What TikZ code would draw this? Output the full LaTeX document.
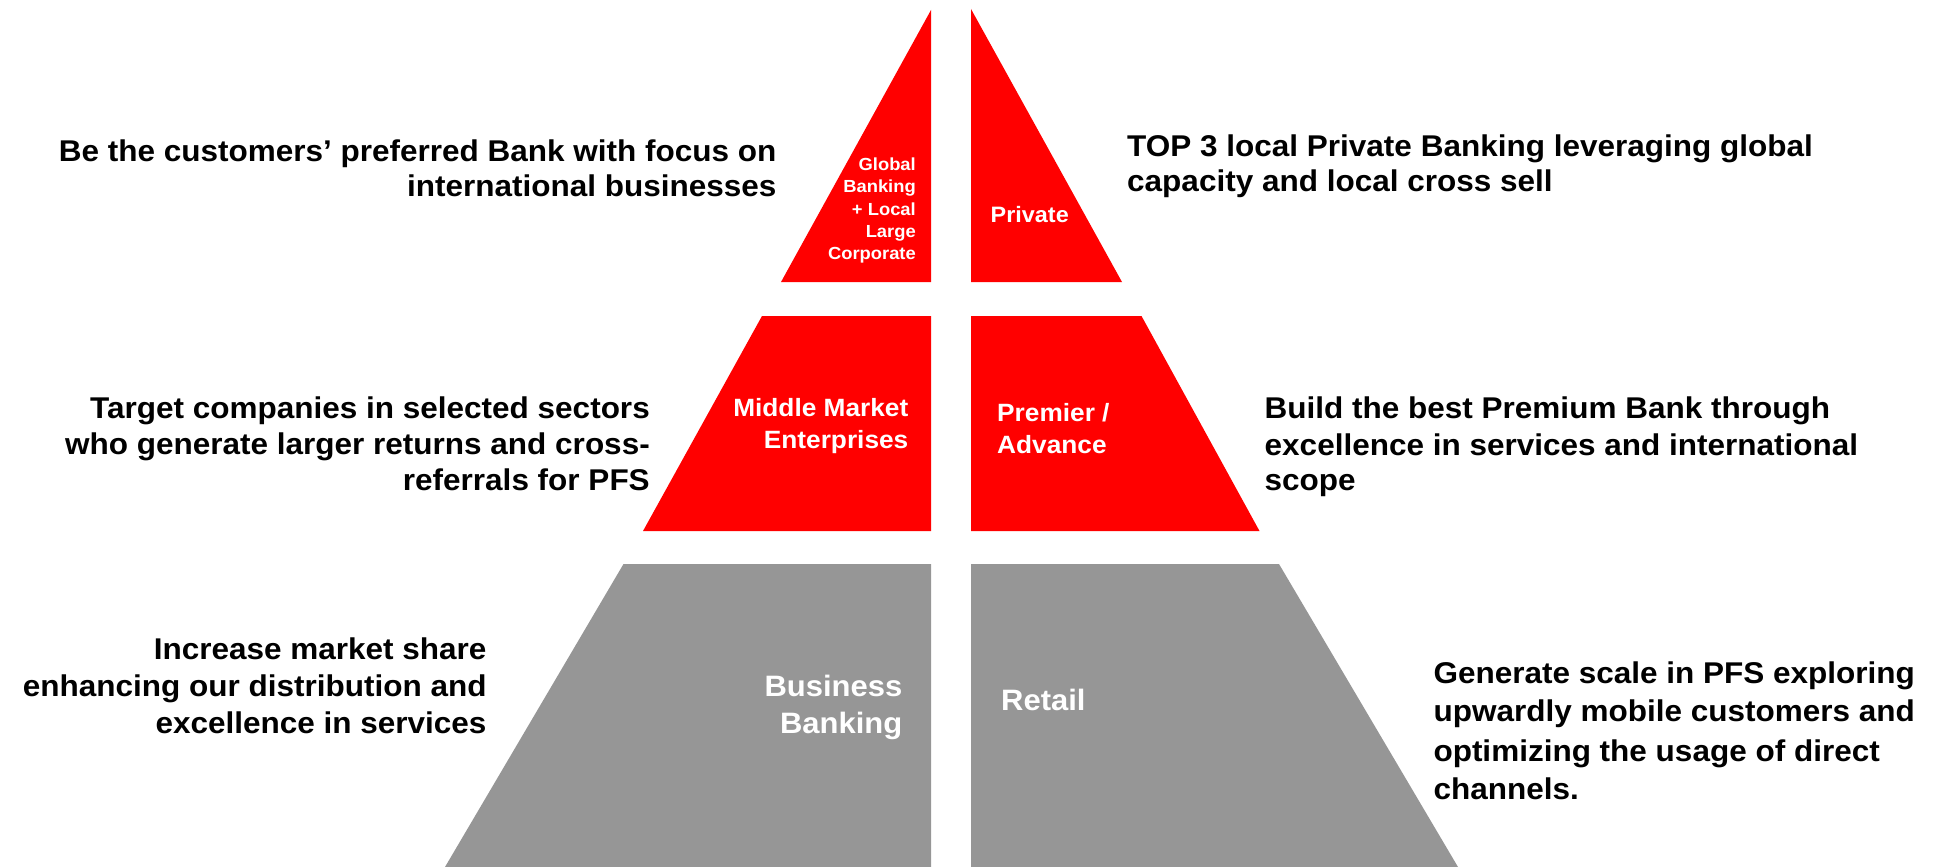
\documentclass[tikz,border=0pt]{standalone}
\usepackage{fontspec}
\newfontfamily\pyrfont{Liberation Sans Bold}[FakeStretch=1.05]
\definecolor{segred}{RGB}{255,0,0}
\definecolor{seggray}{RGB}{150,150,150}
\begin{document}
\begin{tikzpicture}[x=1pt,y=-1pt,
  lineR/.style={anchor=base east,inner sep=0pt,font=\pyrfont\fontsize{30}{36}\selectfont},
  lineL/.style={anchor=base west,inner sep=0pt,font=\pyrfont\fontsize{30}{36}\selectfont},
  inlab/.style={inner sep=0pt,text=white}]
\useasboundingbox (0,0) rectangle (1939,867);

% pyramid segments
\fill[segred] (931,10) -- (931,282) -- (781,282) -- cycle;
\fill[segred] (971,9) -- (1122,282) -- (971,282) -- cycle;
\fill[segred] (762,316) -- (931,316) -- (931,531) -- (643,531) -- cycle;
\fill[segred] (971,316) -- (1141.5,316) -- (1259.5,531) -- (971,531) -- cycle;
\fill[seggray] (623.5,564) -- (931,564) -- (931,867) -- (445,867) -- cycle;
\fill[seggray] (971,564) -- (1279,564) -- (1458,867) -- (971,867) -- cycle;

% segment labels
\begin{scope}[every node/.style={inlab,font=\pyrfont\fontsize{17.5}{22}\selectfont,anchor=base east}]
  \node (gb1) at (916,170) {Global};
  \node (gb2) at (916,192.5) {Banking};
  \node (gb3) at (916,215) {+ Local};
  \node (gb4) at (916,237.3) {Large};
  \node (gb5) at (916,259.5) {Corporate};
\end{scope}
\node[inlab,anchor=base west,font=\pyrfont\fontsize{22.3}{27}\selectfont] (pv) at (990.5,222.7) {Private};
\node[inlab,anchor=base east,font=\pyrfont\fontsize{25}{31}\selectfont] (mm1) at (908.5,416.7) {Middle Market};
\node[inlab,anchor=base east,font=\pyrfont\fontsize{25}{31}\selectfont] (mm2) at (908.5,448.3) {Enterprises};
\node[inlab,anchor=base west,font=\pyrfont\fontsize{25}{31}\selectfont] (pa1) at (997,421.7) {Premier /};
\node[inlab,anchor=base west,font=\pyrfont\fontsize{25}{31}\selectfont] (pa2) at (997,453.3) {Advance};
\node[inlab,anchor=base east,font=\pyrfont\fontsize{29.5}{36}\selectfont] (bb1) at (902.5,696.7) {Business};
\node[inlab,anchor=base east,font=\pyrfont\fontsize{29.5}{36}\selectfont] (bb2) at (902.5,733.3) {Banking};
\node[inlab,anchor=base west,font=\pyrfont\fontsize{29.5}{36}\selectfont] (rt) at (1001,710) {Retail};

% goal statements, left side
\node[lineR] (gl1) at (776.7,161) {Be the customers’ preferred Bank with focus on};
\node[lineR] (gl2) at (776.7,196.7) {international businesses};
\node[lineR] (ml1) at (650,418) {Target companies in selected sectors};
\node[lineR] (ml2) at (650,454) {who generate larger returns and cross-};
\node[lineR] (ml3) at (650,490) {referrals for PFS};
\node[lineR] (bl1) at (486.7,659.3) {Increase market share};
\node[lineR] (bl2) at (486.7,696.7) {enhancing our distribution and};
\node[lineR] (bl3) at (486.7,733) {excellence in services};

% goal statements, right side
\node[lineL] (gr1) at (1127,156) {TOP 3 local Private Banking leveraging global};
\node[lineL] (gr2) at (1127,191.7) {capacity and local cross sell};
\node[lineL] (mr1) at (1264.5,418.3) {Build the best Premium Bank through};
\node[lineL] (mr2) at (1264.5,455) {excellence in services and international};
\node[lineL] (mr3) at (1264.5,490) {scope};
\node[lineL] (br1) at (1433.3,683.3) {Generate scale in PFS exploring};
\node[lineL] (br2) at (1433.3,721.7) {upwardly mobile customers and};
\node[lineL] (br3) at (1433.3,761) {optimizing the usage of direct};
\node[lineL] (br4) at (1433.3,799) {channels.};
\end{tikzpicture}
\end{document}
